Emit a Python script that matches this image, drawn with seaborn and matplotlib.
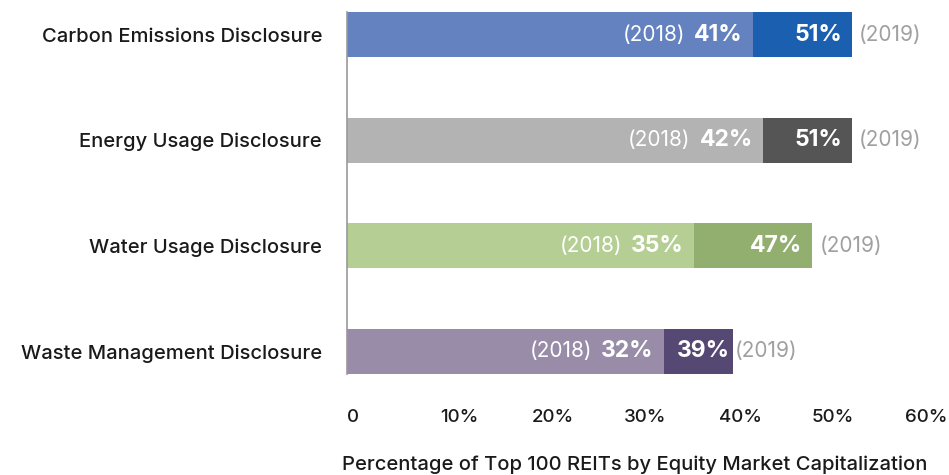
import matplotlib
matplotlib.use("Agg")
import matplotlib.pyplot as plt
import seaborn as sns
import pandas as pd
from matplotlib.transforms import offset_copy, ScaledTranslation

categories = ["Carbon Emissions Disclosure", "Energy Usage Disclosure",
              "Water Usage Disclosure", "Waste Management Disclosure"]
values_2018 = [41, 42, 35, 32]
values_2019 = [51, 51, 47, 39]
colors_2018 = ["#6482C0", "#B3B3B3", "#B5CE93", "#988CA8"]
colors_2019 = ["#1B5FB0", "#555555", "#93AF70", "#554872"]
tick_values = [0, 10, 20, 30, 40, 50, 60]
tick_labels = ["0", "10%", "20%", "30%", "40%", "50%", "60%"]
xlabel = "Percentage of Top 100 REITs by Equity Market Capitalization"

sns.set_theme(style="white")
plt.rcParams["font.family"] = ["Inter", "DejaVu Sans"]

df = pd.DataFrame({"cat": categories, "v2018": values_2018, "v2019": values_2019})

fig = plt.figure(figsize=(9.49, 4.75), dpi=100)
ax = fig.add_axes([347/949, 101/475, 594/949, 362/475])

sns.barplot(data=df, y="cat", x="v2019", hue="cat", palette=colors_2019,
            orient="h", width=0.43, ax=ax, legend=False, saturation=1,
            linewidth=0, edgecolor="none")
sns.barplot(data=df, y="cat", x="v2018", hue="cat", palette=colors_2018,
            orient="h", width=0.43, ax=ax, legend=False, saturation=1,
            linewidth=0, edgecolor="none")

ax.set_xlim(0, 60)
ax.set_ylim(3 + 0.215, -0.215)
ax.set_xticks(tick_values)
ax.set_xticklabels(tick_labels, fontsize=13.5, color="#1a1a1a", fontweight="medium")
ax.tick_params(axis="x", length=0, pad=25)
ax.tick_params(axis="y", length=0, pad=18)
for lbl in ax.get_yticklabels():
    lbl.set_fontsize(14.5)
    lbl.set_color("#1a1a1a")
    lbl.set_fontweight("medium")
nudges = [6, 13, 8, 1, -3, -9, -15]
for lbl, dx in zip(ax.get_xticklabels(), nudges):
    lbl.set_transform(lbl.get_transform() + ScaledTranslation(dx / 100, 0, fig.dpi_scale_trans))

ax.set_ylabel("")
ax.set_xlabel(xlabel, fontsize=14.5, color="#1a1a1a", va="center", fontweight="medium")
ax.xaxis.set_label_coords(0.484, -0.251)
for s in ["top", "right", "bottom"]:
    ax.spines[s].set_visible(False)
ax.spines["left"].set_color("#999999")
ax.spines["left"].set_linewidth(1.2)

val_tr = offset_copy(ax.transData, fig=fig, x=-10, y=0, units="dots")
val_tr_narrow = offset_copy(ax.transData, fig=fig, x=-3, y=0, units="dots")
right_tr = offset_copy(ax.transData, fig=fig, x=7, y=0, units="dots")
right_tr_narrow = offset_copy(ax.transData, fig=fig, x=2, y=0, units="dots")

v2018_texts = []
for i, (a, b) in enumerate(zip(values_2018, values_2019)):
    t = ax.text(a, i, f"{a}%", transform=val_tr, ha="right", va="center",
                color="white", fontsize=16.5, fontweight="bold")
    v2018_texts.append(t)
    narrow = (b - a) < 9
    ax.text(b, i, f"{b}%", transform=val_tr_narrow if narrow else val_tr,
            ha="right", va="center", color="white", fontsize=16.5, fontweight="bold")
    ax.text(b, i, "(2019)", transform=right_tr_narrow if narrow else right_tr,
            ha="left", va="center", color="#A0A0A0", fontsize=15)

fig.canvas.draw()
renderer = fig.canvas.get_renderer()
for i, t in enumerate(v2018_texts):
    bb = t.get_window_extent(renderer)
    x_disp = bb.x0 - 9
    y_disp = ax.transData.transform((0, i))[1]
    xd, _ = ax.transData.inverted().transform((x_disp, y_disp))
    ax.text(xd, i, "(2018)", ha="right", va="center", color="white", fontsize=15)

fig.savefig("out.png", dpi=100)
